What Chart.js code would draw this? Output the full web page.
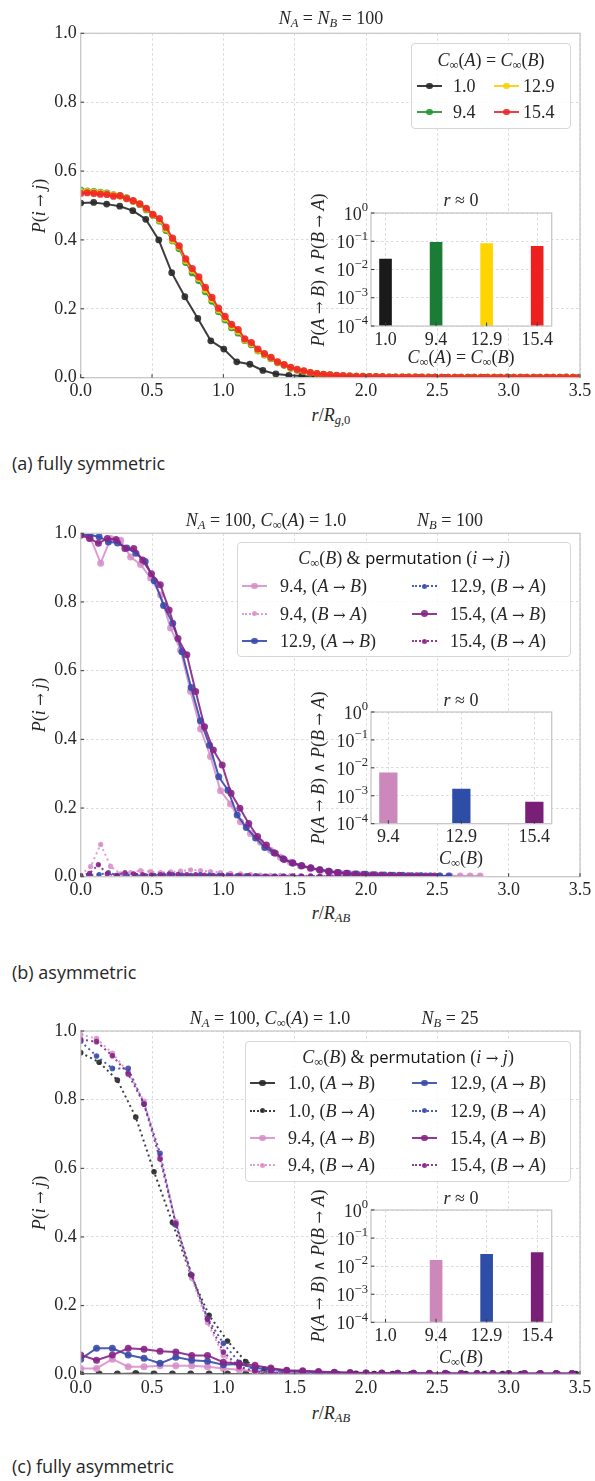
<!DOCTYPE html>
<html><head><meta charset="utf-8">
<script src="https://cdn.jsdelivr.net/npm/chart.js@4.4.1/dist/chart.umd.min.js"></script>
<style>
html,body{margin:0;padding:0;background:#fff;}
body{width:595px;height:1481px;position:relative;overflow:hidden;}
canvas{position:absolute;}
.t{position:absolute;z-index:5;font-family:'Liberation Serif',serif;font-size:18px;color:#262626;white-space:nowrap;line-height:1;}
.c{transform:translate(-50%,-50%);}
.l{transform:translate(0,-50%);}
.r{transform:translate(-50%,-50%) rotate(-90deg);}
.s{font-family:'Open Sans',sans-serif;}
.ar{font-family:'DejaVu Serif',serif;font-size:15px;font-style:normal;}
.t sub{font-size:70%;vertical-align:-0.25em;line-height:0;}
.leg{position:absolute;z-index:4;background:rgba(255,255,255,0.8);border:1px solid #d6d6d6;border-radius:4px;box-sizing:border-box;}
.hl{position:absolute;z-index:5;height:0;width:25px;}
.hm{position:absolute;z-index:6;border-radius:50%;}
</style></head><body>
<script>
// ---------------- DATA ----------------
const X_TICKS = [0, 0.5, 1.0, 1.5, 2.0, 2.5, 3.0, 3.5];
const Y_TICKS = [0, 0.2, 0.4, 0.6, 0.8, 1.0];
const INSET_Y_TICKS = [1e-4, 1e-3, 1e-2, 1e-1, 1];

// panel (a)
const XA_BLACK = [0,0.091,0.182,0.274,0.365,0.456,0.547,0.638,0.730,0.821,
  0.912,1.003,1.094,1.186,1.277,1.368,1.459,1.550,1.642,1.733,
  1.824,1.915,2.006,2.098,2.189,2.280,2.371,2.462,2.554,2.645,
  2.736,2.827,2.918,3.010,3.101,3.192,3.283,3.374,3.466];
const YA_10 = [0.507,0.509,0.504,0.498,0.485,0.460,0.400,0.305,0.235,0.172,
  0.107,0.083,0.046,0.039,0.021,0.011,0.007,0.005,0.003,0.002,
  0.002,0.001,0.001,0.001,0.001,0.001,0.001,0,0.001,0,
  0,0.001,0,0,0,0,0,0,0];
const XA_FINE = [0,0.046,0.092,0.138,0.184,0.23,0.276,0.322,0.368,0.414,
  0.46,0.506,0.552,0.598,0.644,0.69,0.736,0.782,0.828,0.874,
  0.92,0.966,1.012,1.058,1.104,1.15,1.196,1.242,1.288,1.334,
  1.38,1.426,1.472,1.518,1.564,1.61,1.656,1.702,1.748,1.794,
  1.84,1.886,1.932,1.978,2.024,2.07,2.116,2.162,2.208,2.254,
  2.3,2.346,2.392,2.438,2.484,2.53,2.576,2.622,2.668,2.714,
  2.76,2.806,2.852,2.898,2.944,2.99,3.036,3.082,3.128,3.174,
  3.22,3.266,3.312,3.358,3.404,3.45,3.496];
const YA_94 = [0.545,0.542,0.540,0.538,0.536,0.531,0.529,0.522,0.512,0.503,
  0.488,0.472,0.455,0.428,0.398,0.375,0.335,0.305,0.282,0.250,
  0.222,0.192,0.168,0.145,0.130,0.108,0.096,0.078,0.066,0.055,
  0.044,0.036,0.028,0.022,0.018,0.014,0.011,0.009,0.008,0.006,
  0.005,0.005,0.004,0.003,0.003,0.003,0.002,0.002,0.002,0.002,
  0.002,0.002,0.001,0.002,0.001,0.001,0.001,0.001,0.001,0.001,
  0.001,0.001,0.001,0.001,0.001,0.002,0.001,0.001,0.001,0.001,
  0.001,0.001,0.001,0.001,0.002,0.001,0.001];
const YA_129 = [0.540,0.540,0.538,0.537,0.534,0.530,0.527,0.521,0.513,0.504,
  0.490,0.473,0.458,0.432,0.400,0.380,0.340,0.312,0.288,0.256,
  0.228,0.197,0.173,0.150,0.135,0.110,0.099,0.080,0.068,0.057,
  0.045,0.037,0.029,0.023,0.019,0.015,0.012,0.010,0.008,0.006,
  0.005,0.005,0.004,0.004,0.003,0.003,0.002,0.002,0.002,0.002,
  0.002,0.002,0.002,0.001,0.001,0.001,0.001,0.001,0.001,0.001,
  0.001,0.001,0.001,0.002,0.001,0.001,0.001,0.001,0.001,0.001,
  0.001,0.001,0.001,0.001,0.001,0.001,0.001];
const YA_154 = [0.535,0.537,0.535,0.533,0.532,0.527,0.528,0.520,0.514,0.505,
  0.492,0.474,0.462,0.437,0.405,0.383,0.345,0.317,0.293,0.262,
  0.233,0.202,0.178,0.155,0.140,0.113,0.102,0.083,0.070,0.059,
  0.046,0.038,0.030,0.024,0.020,0.015,0.012,0.010,0.008,0.007,
  0.006,0.005,0.004,0.004,0.003,0.003,0.003,0.002,0.002,0.002,
  0.002,0.002,0.002,0.001,0.002,0.001,0.001,0.001,0.001,0.001,
  0.001,0.001,0.001,0.001,0.001,0.001,0.001,0.001,0.001,0.001,
  0.001,0.001,0.001,0.001,0.001,0.001,0.001];
const CAT_A = ['1.0','9.4','12.9','15.4'];
const BAR_A = [0.024, 0.094, 0.085, 0.068];

// panel (b)
const XB_94 = [0,0.07,0.14,0.21,0.28,0.35,0.42,0.49,0.56,0.63,
  0.7,0.77,0.84,0.91,0.98,1.05,1.12,1.19,1.26,1.33,
  1.4,1.47,1.54,1.61,1.68,1.75,1.82,1.89,1.96,2.03,
  2.1,2.17,2.24,2.31,2.38,2.45,2.52,2.59,2.66,2.73,2.8];
const XB_129 = [0,0.065,0.129,0.194,0.258,0.323,0.387,0.452,0.516,0.581,
  0.645,0.71,0.774,0.839,0.903,0.968,1.032,1.097,1.161,1.226,
  1.29,1.355,1.419,1.484,1.548,1.613,1.677,1.742,1.806,1.871,
  1.935,2.0,2.064,2.129,2.193,2.258,2.322,2.387,2.451,2.516,2.58];
const XB_154 = [0,0.062,0.124,0.186,0.248,0.31,0.372,0.434,0.496,0.558,
  0.62,0.682,0.744,0.806,0.868,0.93,0.992,1.054,1.116,1.178,
  1.24,1.302,1.364,1.426,1.488,1.55,1.612,1.674,1.736,1.798,
  1.86,1.922,1.984,2.046,2.108,2.17,2.232,2.294,2.356,2.418,2.48];
const YB_94_AB = [0.995,0.985,0.913,0.985,0.980,0.931,0.909,0.870,0.820,0.724,
  0.660,0.540,0.430,0.350,0.250,0.212,0.160,0.126,0.100,0.077,
  0.057,0.042,0.031,0.023,0.017,0.013,0.010,0.008,0.006,0.005,
  0.004,0.004,0.003,0.003,0.003,0.002,0.002,0.002,0.002,0.002,0.002];
const YB_94_BA = [0.005,0.030,0.094,0.030,0.008,0.012,0.018,0.015,0.012,0.014,
  0.016,0.020,0.018,0.015,0.012,0.010,0.008,0.006,0.005,0.004,
  0.004,0.003,0.003,0.003,0.002,0.002,0.002,0.002,0.002,0.002,
  0.001,0.001,0.001,0.001,0.001,0.001,0.001,0.001,0.001,0.001,0.001];
const YB_129_AB = [0.995,0.995,0.990,0.975,0.972,0.957,0.942,0.918,0.862,0.790,
  0.738,0.655,0.551,0.454,0.383,0.291,0.252,0.180,0.143,0.113,
  0.085,0.070,0.052,0.040,0.032,0.025,0.020,0.016,0.012,0.010,
  0.008,0.007,0.006,0.005,0.004,0.004,0.003,0.003,0.002,0.002,0.002];
const YB_129_BA = [0.003,0.004,0.006,0.012,0.004,0.003,0.004,0.003,0.004,0.005,
  0.006,0.005,0.004,0.006,0.005,0.004,0.004,0.003,0.003,0.003,
  0.002,0.002,0.002,0.002,0.002,0.002,0.001,0.001,0.001,0.001,
  0.001,0.001,0.001,0.001,0.001,0.001,0.001,0.001,0.001,0.001,0.001];
const YB_154_AB = [0.995,0.985,0.971,0.985,0.982,0.956,0.956,0.922,0.882,0.850,
  0.777,0.694,0.646,0.539,0.437,0.369,0.325,0.243,0.199,0.155,
  0.117,0.092,0.068,0.050,0.040,0.032,0.026,0.020,0.016,0.012,
  0.010,0.008,0.007,0.006,0.005,0.004,0.004,0.003,0.003,0.002,0.002];
const YB_154_BA = [0.003,0.010,0.035,0.008,0.004,0.012,0.008,0.006,0.005,0.006,
  0.008,0.007,0.006,0.006,0.005,0.004,0.004,0.003,0.003,0.003,
  0.002,0.002,0.002,0.002,0.002,0.001,0.001,0.001,0.001,0.001,
  0.001,0.001,0.001,0.001,0.001,0.001,0.001,0.001,0.001,0.001,0.001];
const CAT_B = ['9.4','12.9','15.4'];
const BAR_B = [0.0068, 0.0018, 0.00061];

// panel (c)
const XC = [0,0.111,0.222,0.333,0.444,0.556,0.667,0.778,0.889,1.0,
  1.111,1.222,1.333,1.444,1.556,1.667,1.778,1.889,2.0,2.111,
  2.222,2.333,2.444,2.556,2.667,2.778,2.889,3.0,3.111,3.222,3.333,3.444];
const XC_10 = [0,0.129,0.257,0.386,0.514,0.643,0.771,0.9,1.029,1.157,
  1.286,1.414,1.543,1.671,1.8,1.929,2.057,2.186,2.314,2.443,
  2.571,2.7,2.829,2.957,3.086,3.214,3.343,3.471];
const YC_10_AB = [0.001,0.001,0.001,0.002,0.001,0.001,0.001,0.001,0.001,0.001,
  0.001,0,0.001,0,0,0.001,0,0,0,0, 0,0,0,0,0,0,0,0];
const YC_10_BA = [0.937,0.909,0.857,0.749,0.590,0.442,0.290,0.172,0.097,0.037,
  0.015,0.006,0.003,0.002,0.001,0.001,0.001,0,0,0, 0,0,0,0,0,0,0,0];
const YC_94_AB = [0.017,0.017,0.044,0.022,0.022,0.025,0.025,0.025,0.022,0.017,
  0.013,0.008,0.006,0.005,0.004,0.003,0.003,0.002,0.002,0.002,
  0.002,0.002,0.001,0.001,0.001,0.001,0.001,0.001,0.001,0.001,0.001,0.001];
const YC_94_BA = [0.990,0.978,0.935,0.880,0.795,0.635,0.445,0.280,0.150,0.055,
  0.018,0.007,0.003,0.002,0.001,0.001,0.001,0.001,0.001,0.001,
  0.001,0.001,0.001,0,0,0,0,0,0,0,0,0];
const YC_129_AB = [0.044,0.076,0.076,0.056,0.047,0.032,0.050,0.041,0.038,0.028,
  0.030,0.018,0.015,0.010,0.008,0.006,0.005,0.004,0.004,0.003,
  0.003,0.003,0.002,0.002,0.002,0.002,0.002,0.002,0.002,0.002,0.002,0.002];
const YC_129_BA = [0.970,0.927,0.891,0.891,0.787,0.644,0.435,0.289,0.163,0.090,
  0.035,0.013,0.006,0.003,0.002,0.001,0.001,0.001,0.001,0.001,
  0.001,0.001,0,0,0,0,0,0,0,0,0,0];
const YC_154_AB = [0.056,0.041,0.056,0.076,0.073,0.067,0.065,0.055,0.055,0.035,
  0.031,0.026,0.018,0.012,0.010,0.008,0.006,0.005,0.004,0.004,
  0.003,0.003,0.003,0.003,0.002,0.002,0.002,0.002,0.002,0.002,0.002,0.002];
const YC_154_BA = [0.975,0.969,0.928,0.875,0.787,0.627,0.440,0.289,0.160,0.065,
  0.022,0.009,0.004,0.002,0.001,0.001,0.001,0.001,0.001,0.001,
  0.001,0.001,0,0,0,0,0,0,0,0,0,0];
const CAT_C = ['1.0','9.4','12.9','15.4'];
const BAR_C = [0, 0.0166, 0.027, 0.031];

// ---------------- STYLE ----------------
const TXT = '#262626';
const GRID = '#d0d0d0';
const SERIF = "'Liberation Serif', 'Times New Roman', serif";
const FONT = {family:SERIF, size:18};
const COL = {
  k:'rgba(40,40,40,0.9)', g:'rgba(38,150,50,0.9)', y:'rgba(245,210,10,0.9)', r:'rgba(240,40,40,0.9)',
  p:'rgba(215,140,200,0.85)', b:'rgba(55,75,170,0.9)', v:'rgba(135,35,135,0.9)'
};
const BARCOL = {k:'#1a1a1a', g:'#1b7d35', y:'#ffd500', r:'#ee1f1f', p:'#cc88bb', b:'#2d4da6', v:'#7a1f78'};

function pts(xs, ys){ return ys.map((y,i)=>({x:xs[i], y:y})); }
function ser(xs, ys, color, dotted, r){
  return {data:pts(xs,ys), borderColor:color, backgroundColor:color, pointBackgroundColor:color,
    borderWidth:2, borderDash: dotted?[2,3.3]:[], pointRadius:r, pointBorderWidth:0, pointHoverRadius:0,
    clip:0, tension:0, fill:false};
}

const frame = {id:'frame', afterDraw(chart){
  const {ctx, chartArea:a, scales:{x,y}} = chart;
  ctx.save();
  ctx.strokeStyle = '#c8c8c8'; ctx.lineWidth = 1.3; ctx.setLineDash([]);
  ctx.strokeRect(a.left, a.top, a.width, a.height);
  ctx.strokeStyle = '#3a3a3a'; ctx.lineWidth = 1; ctx.beginPath();
  x.ticks.forEach(t=>{const px=x.getPixelForValue(t.value); ctx.moveTo(px,a.bottom); ctx.lineTo(px,a.bottom-3.5);});
  y.ticks.forEach(t=>{const py=y.getPixelForValue(t.value); ctx.moveTo(a.left,py); ctx.lineTo(a.left+3.5,py);});
  ctx.stroke(); ctx.restore();
}};
const whiteBg = {id:'whiteBg', beforeDraw(chart){
  const {ctx, chartArea:a} = chart; ctx.save(); ctx.fillStyle='#fff'; ctx.fillRect(a.left,a.top,a.width,a.height); ctx.restore();
}};
const logLabels = {id:'logLabels', afterDraw(chart){
  const {ctx, chartArea:a, scales:{y}} = chart;
  ctx.save(); ctx.fillStyle = TXT; ctx.textBaseline='middle'; ctx.textAlign='left';
  y.ticks.forEach(t=>{
    const py = y.getPixelForValue(t.value);
    const e = Math.round(Math.log10(t.value));
    const es = e<0 ? '\u2212'+(-e) : String(e);
    ctx.font = '12.6px ' + SERIF; const ew = ctx.measureText(es).width;
    ctx.font = '18px ' + SERIF; const bw = ctx.measureText('10').width;
    const right = a.left - 3;
    ctx.fillText('10', right-ew-bw, py+2);
    ctx.font = '12.6px ' + SERIF; ctx.fillText(es, right-ew, py-5);
  });
  ctx.restore();
}};

function mkCanvas(left, top, w, h){
  const c = document.createElement('canvas');
  c.width = Math.round(w); c.height = Math.round(h);
  c.style.left = left+'px'; c.style.top = top+'px';
  c.style.width = Math.round(w)+'px'; c.style.height = Math.round(h)+'px';
  document.body.appendChild(c); return c;
}
function gridOpts(){ return {color:GRID, lineWidth:0.8, drawTicks:false}; }

function mainChart(top, T, B, dsets){
  const H = 400;
  const c = mkCanvas(0, top, 595, H);
  return new Chart(c, {
    type:'line',
    data:{datasets: dsets.slice().reverse()},
    options:{
      responsive:false, animation:false, events:[],
      layout:{padding:{top:T-top, right:15, left:0, bottom:0}},
      plugins:{legend:{display:false}, tooltip:{enabled:false}},
      scales:{
        x:{type:'linear', min:0, max:3.5,
           afterBuildTicks:a=>{a.ticks = X_TICKS.map(v=>({value:v}));},
           afterFit:a=>{a.height = H-(B-top);},
           ticks:{font:FONT, color:TXT, padding:3, maxRotation:0, autoSkip:false, callback:v=>Number(v).toFixed(1)},
           grid:gridOpts(), border:{display:false, dash:[2.5,2.5]}},
        y:{type:'linear', min:0, max:1,
           afterBuildTicks:a=>{a.ticks = Y_TICKS.map(v=>({value:v}));},
           afterFit:a=>{a.width = 80.7;},
           ticks:{font:FONT, color:TXT, padding:4, autoSkip:false, callback:v=>Number(v).toFixed(1)},
           grid:gridOpts(), border:{display:false, dash:[2.5,2.5]}}
      }
    },
    plugins:[frame]
  });
}

function insetChart(T, B, cats, vals, colors){
  const L = 371, R = 551.7, padT = 14, yW = 50, xH = 22;
  const h = Math.ceil(B - T + padT + xH);
  const c = mkCanvas(L - yW, T - padT, 236, h);
  const n = cats.length, half = 0.125, m = 0.05*(n-1+2*half);
  return new Chart(c, {
    type:'bar',
    data:{datasets:[{data: pts(cats.map((_,i)=>i), vals), backgroundColor: colors, borderWidth:0,
      barPercentage:0.25, categoryPercentage:1}]},
    options:{
      responsive:false, animation:false, events:[],
      layout:{padding:{top:padT, right:236-yW-(R-L), left:0, bottom:0}},
      plugins:{legend:{display:false}, tooltip:{enabled:false}},
      scales:{
        x:{type:'linear', min:-half-m, max:n-1+half+m, offset:false, z:1,
           afterBuildTicks:a=>{a.ticks = cats.map((_,i)=>({value:i}));},
           afterFit:a=>{a.height = h - padT - (B-T);},
           ticks:{font:FONT, color:TXT, padding:3, maxRotation:0, autoSkip:false, callback:v=>cats[v]},
           grid:Object.assign(gridOpts(), {offset:false}), border:{display:false, dash:[2.5,2.5]}},
        y:{type:'logarithmic', min:1e-4, max:1, z:1,
           afterBuildTicks:a=>{a.ticks = INSET_Y_TICKS.map(v=>({value:v}));},
           afterFit:a=>{a.width = yW;},
           ticks:{display:false},
           grid:gridOpts(), border:{display:false, dash:[2.5,2.5]}}
      }
    },
    plugins:[whiteBg, frame, logLabels]
  });
}

// ---------------- CHARTS ----------------
mainChart(0, 33.3, 377.7, [
  ser(XA_BLACK, YA_10, COL.k, false, 3.4),
  ser(XA_FINE, YA_94, COL.g, false, 3.6),
  ser(XA_FINE, YA_129, COL.y, false, 3.6),
  ser(XA_FINE, YA_154, COL.r, false, 3.6)
]);
mainChart(500, 533.3, 876.7, [
  ser(XB_94, YB_94_AB, COL.p, false, 3.5),
  ser(XB_94, YB_94_BA, COL.p, true, 2.6),
  ser(XB_129, YB_129_AB, COL.b, false, 3.5),
  ser(XB_129, YB_129_BA, COL.b, true, 2.6),
  ser(XB_154, YB_154_AB, COL.v, false, 3.5),
  ser(XB_154, YB_154_BA, COL.v, true, 2.6)
]);
mainChart(1000, 1031, 1374.3, [
  ser(XC_10, YC_10_AB, COL.k, false, 3.5),
  ser(XC_10, YC_10_BA, COL.k, true, 2.8),
  ser(XC, YC_94_AB, COL.p, false, 3.5),
  ser(XC, YC_94_BA, COL.p, true, 2.8),
  ser(XC, YC_129_AB, COL.b, false, 3.5),
  ser(XC, YC_129_BA, COL.b, true, 2.8),
  ser(XC, YC_154_AB, COL.v, false, 3.5),
  ser(XC, YC_154_BA, COL.v, true, 2.8)
]);
insetChart(213, 326, CAT_A, BAR_A, [BARCOL.k, BARCOL.g, BARCOL.y, BARCOL.r]);
insetChart(712.3, 824, CAT_B, BAR_B, [BARCOL.p, BARCOL.b, BARCOL.v]);
insetChart(1210, 1322.3, CAT_C, BAR_C, [BARCOL.k, BARCOL.p, BARCOL.b, BARCOL.v]);

// ---------------- TEXT ----------------
function txt(html, x, y, cls){
  const d = document.createElement('div'); d.className = 't ' + cls; d.innerHTML = html;
  d.style.left = x+'px'; d.style.top = y+'px'; document.body.appendChild(d); return d;
}
const I = s => '<i>'+s+'</i>';
const ARR = '<span class="ar">→</span>';
const AND = '<span class="ar">∧</span>';
const CINF = X => I('C')+'<sub>∞</sub>('+I(X)+')';
const AB = '('+I('A')+' '+ARR+' '+I('B')+')', BA = '('+I('B')+' '+ARR+' '+I('A')+')';
const PIJ = I('P')+'('+I('i')+' '+ARR+' '+I('j')+')';
const PAND = I('P')+'('+I('A')+' '+ARR+' '+I('B')+') '+AND+' '+I('P')+'('+I('B')+' '+ARR+' '+I('A')+')';
const NA100 = I('N')+'<sub>'+I('A')+'</sub> = 100, '+CINF('A')+' = 1.0';

function legend(box, titleHtml, tx, ty, items){
  const d = document.createElement('div'); d.className='leg';
  d.style.left=box[0]+'px'; d.style.top=box[1]+'px'; d.style.width=box[2]+'px'; d.style.height=box[3]+'px';
  document.body.appendChild(d);
  txt(titleHtml, tx, ty, 'c');
  items.forEach(it=>{
    const l = document.createElement('div'); l.className='hl';
    l.style.left = it.hx+'px'; l.style.top = (it.y-1)+'px';
    l.style.borderTop = '2px '+(it.dotted?'dotted ':'solid ')+it.color;
    document.body.appendChild(l);
    const dm = it.dotted ? 5 : 6.8;
    const m = document.createElement('div'); m.className='hm';
    m.style.width=dm+'px'; m.style.height=dm+'px'; m.style.background=it.color;
    m.style.left=(it.hx+12.5-dm/2)+'px'; m.style.top=(it.y-dm/2)+'px';
    document.body.appendChild(m);
    txt(it.html, it.tx, it.y, 'l');
  });
}

// panel (a)
txt(I('N')+'<sub>'+I('A')+'</sub> = '+I('N')+'<sub>'+I('B')+'</sub> = 100', 331, 18, 'c');
txt(PIJ, 39, 205.5, 'r');
txt(I('r')+'/'+I('R')+'<sub>'+I('g')+',0</sub>', 331, 415, 'c');
txt(I('r')+' ≈ 0', 461, 200, 'c');
txt(CINF('A')+' = '+CINF('B'), 461, 357, 'c');
txt(PAND, 318, 270, 'r');
txt('(a) fully symmetric', 12, 463, 'l s');
legend([411,43,160,86], CINF('A')+' = '+CINF('B'), 491, 60, [
  {hx:417, tx:453, y:86, color:COL.k, html:CAT_A[0]},
  {hx:417, tx:453, y:112, color:COL.g, html:CAT_A[1]},
  {hx:494, tx:523, y:86, color:COL.y, html:CAT_A[2]},
  {hx:494, tx:523, y:112, color:COL.r, html:CAT_A[3]}
]);

// panel (b)
txt(NA100, 266, 520, 'c');
txt(I('N')+'<sub>'+I('B')+'</sub> = 100', 450, 520, 'c');
txt(PIJ, 39, 705, 'r');
txt(I('r')+'/'+I('R')+'<sub>'+I('AB')+'</sub>', 331, 913, 'c');
txt(I('r')+' ≈ 0', 461, 700, 'c');
txt(CINF('B'), 461, 858, 'c');
txt(PAND, 318, 768, 'r');
txt('(b) asymmetric', 12, 972, 'l s');
const LT = CINF('B')+' &amp; <span class="s" style="font-size:16.5px;color:#111">permutation</span> ('+I('i')+' '+ARR+' '+I('j')+')';
legend([236.7,541.7,334.3,115], LT, 404, 558, [
  {hx:242, tx:280, y:586, color:COL.p, html:CAT_B[0]+', '+AB},
  {hx:242, tx:280, y:613.5, color:COL.p, dotted:true, html:CAT_B[0]+', '+BA},
  {hx:242, tx:280, y:641, color:COL.b, html:CAT_B[1]+', '+AB},
  {hx:412, tx:450, y:586, color:COL.b, dotted:true, html:CAT_B[1]+', '+BA},
  {hx:412, tx:450, y:613.5, color:COL.v, html:CAT_B[2]+', '+AB},
  {hx:412, tx:450, y:641, color:COL.v, dotted:true, html:CAT_B[2]+', '+BA}
]);

// panel (c)
txt(NA100, 270, 1018, 'c');
txt(I('N')+'<sub>'+I('B')+'</sub> = 25', 450, 1018, 'c');
txt(PIJ, 39, 1202.7, 'r');
txt(I('r')+'/'+I('R')+'<sub>'+I('AB')+'</sub>', 331, 1413, 'c');
txt(I('r')+' ≈ 0', 461, 1197.7, 'c');
txt(CINF('B'), 461, 1357, 'c');
txt(PAND, 318, 1266, 'r');
txt('(c) fully asymmetric', 12, 1466, 'l s');
legend([245,1041,326,141], LT, 408, 1057, [
  {hx:250, tx:288, y:1083, color:COL.k, html:CAT_C[0]+', '+AB},
  {hx:250, tx:288, y:1110.5, color:COL.k, dotted:true, html:CAT_C[0]+', '+BA},
  {hx:250, tx:288, y:1138, color:COL.p, html:CAT_C[1]+', '+AB},
  {hx:250, tx:288, y:1165, color:COL.p, dotted:true, html:CAT_C[1]+', '+BA},
  {hx:412, tx:450, y:1083, color:COL.b, html:CAT_C[2]+', '+AB},
  {hx:412, tx:450, y:1110.5, color:COL.b, dotted:true, html:CAT_C[2]+', '+BA},
  {hx:412, tx:450, y:1138, color:COL.v, html:CAT_C[3]+', '+AB},
  {hx:412, tx:450, y:1165, color:COL.v, dotted:true, html:CAT_C[3]+', '+BA}
]);
</script>
</body></html>
